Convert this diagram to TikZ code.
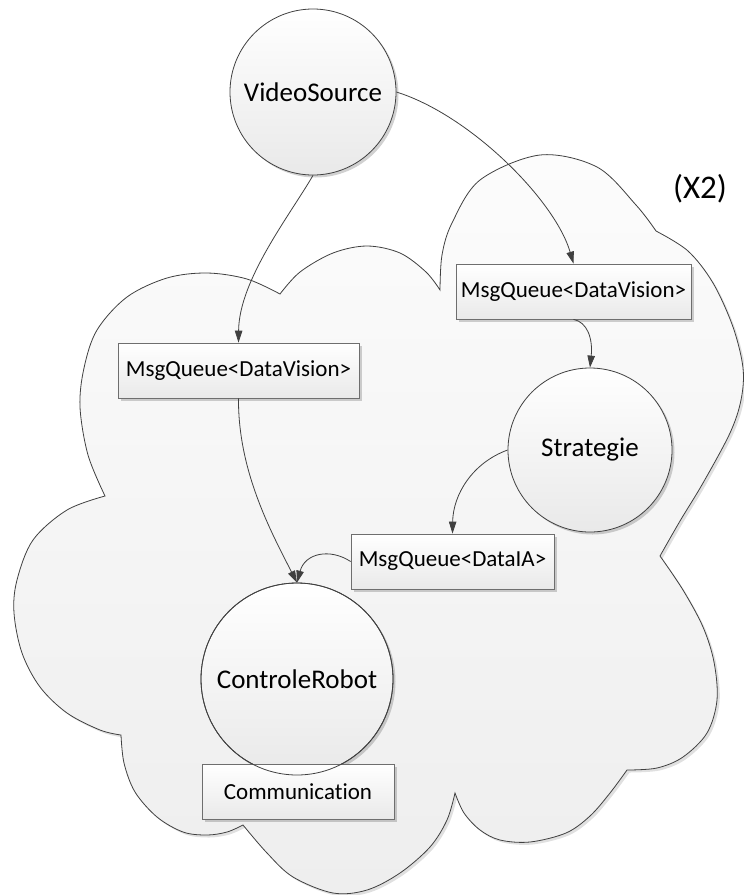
\documentclass[tikz,border=0pt]{standalone}
\usepackage{fontspec}
\setmainfont{Carlito}[Ligatures=NoCommon]
\usetikzlibrary{arrows.meta,shadows}
\definecolor{linec}{HTML}{404040}
\definecolor{boxline}{HTML}{6E6E6E}
\definecolor{cloudtop}{HTML}{FCFCFC}
\definecolor{cloudbot}{HTML}{EEEEEE}
\definecolor{nodebot}{HTML}{E9E9E9}
\newcommand\cloudshape[1]{%
\path[#1]
 plot[smooth,tension=0.55] coordinates {(440,290) (442,255) (452,223) (480,180) (540,155) (597,167) (636,205) (656,231)}
 -- plot[smooth,tension=0.55] coordinates {(656,231) (688,251) (713,283) (733,327) (743,368) (741,400) (730,433) (703,483) (680,521) (660,556)}
 -- plot[smooth,tension=0.55] coordinates {(660,556) (683,590) (703,627) (714,662) (717,700) (707,733) (683,757) (657,768) (627,770)}
 -- plot[smooth,tension=0.55] coordinates {(627,770) (610,793) (590,816) (566,833) (530,842) (500,840) (480,830) (464,813) (455,793)}
 -- plot[smooth,tension=0.55] coordinates {(455,793) (447,820) (430,847) (400,873) (367,890) (333,893) (293,877) (267,853) (243,825)}
 -- plot[smooth,tension=0.55] coordinates {(243,825) (227,832) (207,835) (183,832) (157,817) (135,792) (124,763) (121,735)}
 -- plot[smooth,tension=0.55] coordinates {(121,735) (100,730) (67,713) (40,687) (22,653) (14,613) (17,580) (33,540) (67,510) (105,496)}
 -- plot[smooth,tension=0.55] coordinates {(105,496) (88,455) (80,407) (84,368) (97,330) (127,297) (167,278) (207,273) (247,279) (280,294)}
 -- plot[smooth,tension=0.55] coordinates {(280,294) (300,272) (333,253) (367,246) (400,253) (426,272) (440,290)}
 -- cycle;}
\begin{document}
\begin{tikzpicture}[x=1pt,y=-1pt,
  proc/.style={circle, draw=linec, line width=0.8pt, top color=white, bottom color=nodebot,
    minimum size=#1, inner sep=0pt, font=\fontsize{27}{32}\selectfont,
    drop shadow={shadow xshift=2.5pt, shadow yshift=-2.5pt, opacity=0.18, fill=black}},
  qbox/.style={rectangle, draw=boxline, line width=0.8pt, top color=white, bottom color=nodebot,
    minimum width=#1, minimum height=55pt, inner sep=0pt, font=\fontsize{23}{28}\selectfont,
    drop shadow={shadow xshift=2.5pt, shadow yshift=-2.5pt, opacity=0.18, fill=black}},
  flow/.style={draw=linec, line width=0.8pt, -{Triangle[length=12pt,width=7.5pt]}},
  ring/.style={draw=linec, line width=0.8pt}]
\useasboundingbox (0,0) rectangle (744,895);
% cloud
\cloudshape{fill=black, opacity=0.12, shift={(2.5,2.5)}}
\cloudshape{draw=linec, line width=0.8pt, top color=cloudtop, bottom color=cloudbot}
% nodes
\node[proc=166pt] (vs) at (313,92) {VideoSource};
\node[proc=164pt] (st) at (590,450) {Strategie};
\node[proc=192pt] (cr) at (297,679) {ControleRobot};
\node[qbox=241pt] (q1) at (238.5,370.5) {MsgQueue<DataVision>};
\node[qbox=235pt] (q2) at (573.5,291.5) {MsgQueue<DataVision>};
\node[qbox=203pt] (qa) at (452.5,561.5) {MsgQueue<DataIA>};
\node[qbox=192pt] (cm) at (298,791.5) {Communication};
\draw[ring] (cr) circle[radius=96pt];
\node[font=\fontsize{33}{40}\selectfont] (x2) at (700,189) {(X2)};
% connectors
\draw[flow] (vs.south) .. controls (290,215) and (239,280) .. (q1.north);
\draw[flow] (vs.east) .. controls (470,115) and (555,200) .. (q2.north);
\draw[flow] (q2.south) .. controls (587,322) and (593,338) .. (st.north);
\draw[flow] (st.west) .. controls (472,463) and (453,495) .. (qa.north);
\draw[flow] (q1.south) .. controls (238,470) and (270,530) .. (cr.north);
\draw[flow] (qa.west) .. controls (330,548) and (305,553) .. (cr.north);
\end{tikzpicture}
\end{document}
